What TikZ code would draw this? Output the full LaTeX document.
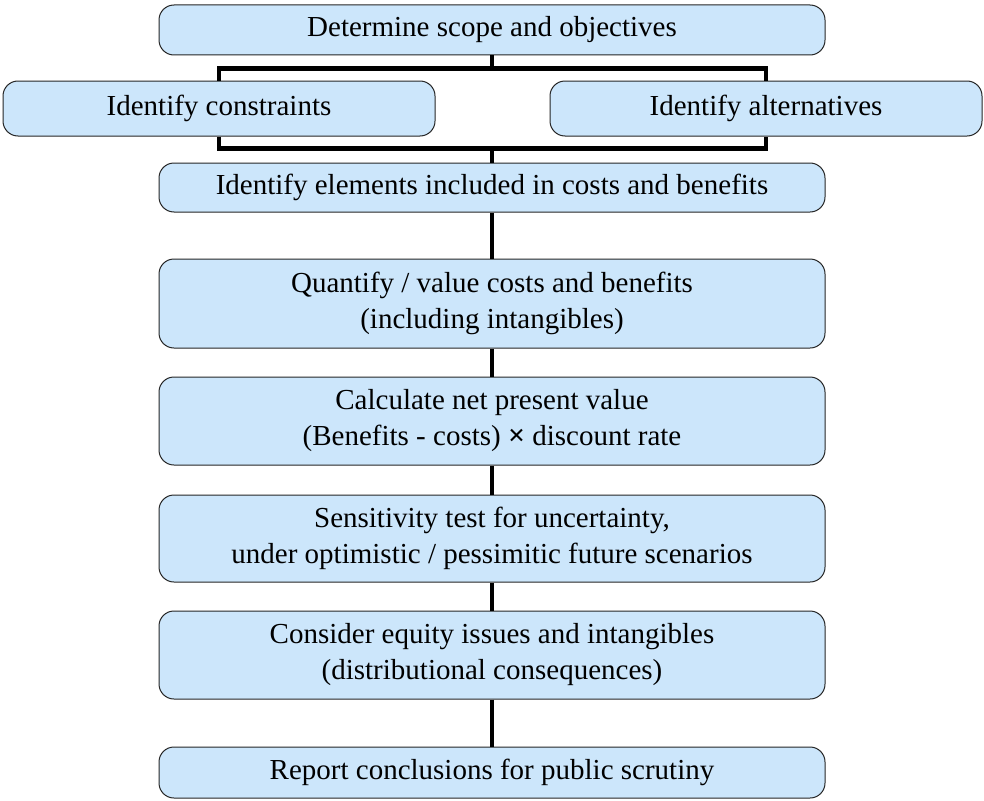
\documentclass[tikz,border=0pt]{standalone}
\usepackage{fontspec}
\setmainfont{Liberation Serif}
\definecolor{boxblue}{RGB}{204,230,251}
\begin{document}
\begin{tikzpicture}[x=1pt,y=-1pt,
  stage/.style={draw=black!85, line width=1pt, fill=boxblue, rounded corners=15pt,
    inner sep=0pt, align=center, font=\fontsize{29}{36}\selectfont},
  wide/.style={stage, minimum width=666pt},
  side/.style={stage, minimum width=432pt, minimum height=55pt},
  link/.style={line width=4.5pt, draw=black}]
\useasboundingbox (0,0) rectangle (984,800);

% process stages
\node[wide, minimum height=50pt] (scope) at (492,30) {Determine scope and objectives};
\node[side] (constr) at (219,108.5) {Identify constraints};
\node[side] (altern) at (766,108.5) {Identify alternatives};
\node[wide, minimum height=49pt] (elems) at (492,187.5) {Identify elements included in costs and benefits};
\node[wide, minimum height=89pt] (quant) at (492,303.5) {Quantify / value costs and benefits\\(including intangibles)};
\node[wide, minimum height=88pt] (npv) at (492,421) {Calculate net present value\\(Benefits - costs) {\fontsize{30}{30}\selectfont\bfseries ×} discount rate};
\node[wide, minimum height=87pt] (sens) at (492,538.5) {Sensitivity test for uncertainty,\\under optimistic / pessimitic future scenarios};
\node[wide, minimum height=88pt] (equity) at (492,655) {Consider equity issues and intangibles\\(distributional consequences)};
\node[wide, minimum height=51pt] (report) at (492,772.5) {Report conclusions for public scrutiny};

% branching bracket around the two parallel steps
\draw[link] (scope.south) -- ++(0,14);
\draw[link] (constr.north) -- ++(0,-12) -| (altern.north);
\draw[link] (constr.south) -- ++(0,12) -| (altern.south);
\draw[link] (elems.north) -- ++(0,-15);

% sequential links
\draw[link] (elems.south) -- (quant.north);
\draw[link] (quant.south) -- (npv.north);
\draw[link] (npv.south) -- (sens.north);
\draw[link] (sens.south) -- (equity.north);
\draw[link] (equity.south) -- (report.north);
\end{tikzpicture}
\end{document}
